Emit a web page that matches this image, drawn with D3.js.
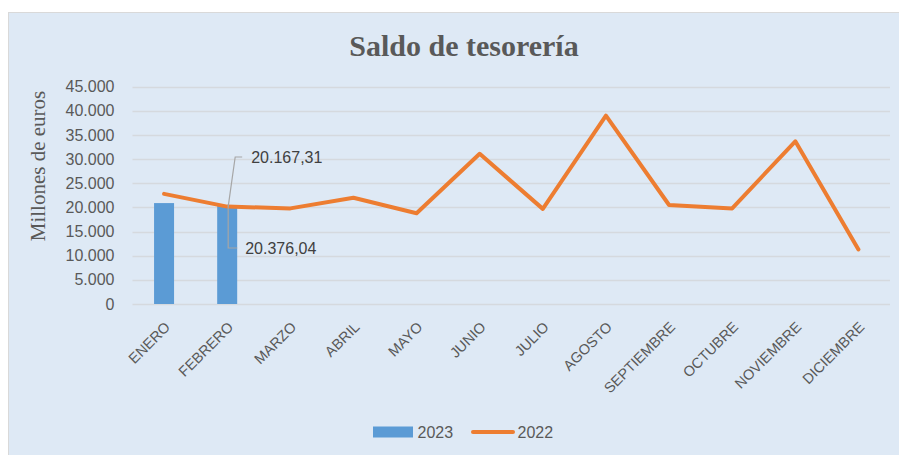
<!DOCTYPE html>
<html lang="es">
<head>
<meta charset="utf-8">
<title>Saldo de tesorería</title>
<script src="https://cdn.jsdelivr.net/npm/d3@7"></script>
<style>
  body { margin: 0; background: #fff; }
  svg { display: block; }
</style>
</head>
<body>
<script>
// data
var months = ["ENERO", "FEBRERO", "MARZO", "ABRIL", "MAYO", "JUNIO", "JULIO",
              "AGOSTO", "SEPTIEMBRE", "OCTUBRE", "NOVIEMBRE", "DICIEMBRE"];
var values2023 = [20900, 20376.04];
var values2022 = [22800, 20167.31, 19800, 22000, 18800, 31100, 19700,
                  39000, 20500, 19800, 33700, 11300];
var yTicks = [0, 5000, 10000, 15000, 20000, 25000, 30000, 35000, 40000, 45000];

var w = 899, h = 455;
var plotLeft = 132.5, plotRight = 890, plotTop = 86.7, plotBottom = 304;

var fmt = d3.formatLocale({ decimal: ",", thousands: ".", grouping: [3], currency: ["", "€"] });
var fmtTick = fmt.format(",.0f");
var fmtLabel = fmt.format(",.2f");

var svg = d3.select("body").append("svg")
  .attr("width", w)
  .attr("height", h);

// chart area
svg.append("rect")
  .attr("x", 8.5).attr("y", 12.5)
  .attr("width", w).attr("height", h)
  .attr("fill", "#dee9f5")
  .attr("stroke", "#d9d9d9");

var x = d3.scaleBand().domain(months).range([plotLeft, plotRight]);
var y = d3.scaleLinear().domain([0, 45000]).range([plotBottom, plotTop]);

// gridlines
svg.append("g")
  .selectAll("line")
  .data(yTicks)
  .enter().append("line")
  .attr("x1", plotLeft).attr("x2", plotRight)
  .attr("y1", function(d) { return Math.round(y(d)) + 0.5; })
  .attr("y2", function(d) { return Math.round(y(d)) + 0.5; })
  .attr("stroke", "#d5d9de")
  .attr("stroke-width", 1.5);

// y axis labels
var yAxis = d3.axisLeft(y).tickValues(yTicks).tickFormat(fmtTick).tickSize(0).tickPadding(18);
var gy = svg.append("g").attr("transform", "translate(" + plotLeft + ",0)").call(yAxis);
gy.select(".domain").remove();
gy.selectAll("text")
  .attr("font-family", "Liberation Sans, Arial, sans-serif")
  .attr("font-size", "16px")
  .attr("fill", "#595959");

// x axis labels
var xAxis = d3.axisBottom(x).tickSize(0).tickPadding(0);
var gx = svg.append("g").attr("transform", "translate(0," + plotBottom + ")").call(xAxis);
gx.select(".domain").remove();
gx.selectAll("text")
  .attr("font-family", "Liberation Sans, Arial, sans-serif")
  .attr("font-size", "14.5px")
  .attr("fill", "#595959")
  .attr("text-anchor", "end")
  .attr("dy", null)
  .attr("transform", "translate(7,24) rotate(-45)");

// bars 2023
var barW = 20;
svg.append("g")
  .selectAll("rect")
  .data(values2023)
  .enter().append("rect")
  .attr("x", function(d, i) { return x(months[i]) + x.bandwidth() / 2 - barW / 2; })
  .attr("y", function(d) { return y(d); })
  .attr("width", barW)
  .attr("height", function(d) { return y(0) - y(d); })
  .attr("fill", "#5b9bd5");

// line 2022
var line = d3.line()
  .x(function(d, i) { return x(months[i]) + x.bandwidth() / 2; })
  .y(function(d) { return y(d); });

svg.append("path")
  .datum(values2022)
  .attr("d", line)
  .attr("fill", "none")
  .attr("stroke", "#ed7d31")
  .attr("stroke-width", 4)
  .attr("stroke-linejoin", "round")
  .attr("stroke-linecap", "round");

// data labels with leader lines (FEBRERO)
var fx = x("FEBRERO") + x.bandwidth() / 2;
var lineY = y(values2022[1]);
var barY = y(values2023[1]);

svg.append("polyline")
  .attr("points", [[fx + 15, 157], [fx + 8, 157], [fx + 1, lineY]].join(" "))
  .attr("fill", "none").attr("stroke", "#a6a6a6").attr("stroke-width", 1.2);
svg.append("polyline")
  .attr("points", [[fx + 1, barY], [fx + 1, 248], [fx + 10, 248]].join(" "))
  .attr("fill", "none").attr("stroke", "#a6a6a6").attr("stroke-width", 1.2);

svg.append("text")
  .attr("x", fx + 24).attr("y", 163)
  .attr("font-family", "Liberation Sans, Arial, sans-serif")
  .attr("font-size", "16px").attr("fill", "#404040")
  .text(fmtLabel(values2022[1]));
svg.append("text")
  .attr("x", fx + 18).attr("y", 254)
  .attr("font-family", "Liberation Sans, Arial, sans-serif")
  .attr("font-size", "16px").attr("fill", "#404040")
  .text(fmtLabel(values2023[1]));

// title
svg.append("text")
  .attr("x", 464).attr("y", 55.5)
  .attr("text-anchor", "middle")
  .attr("font-family", "Liberation Serif, Times New Roman, serif")
  .attr("font-weight", "bold")
  .attr("font-size", "30px")
  .attr("fill", "#595959")
  .text("Saldo de tesorería");

// y axis title
svg.append("text")
  .attr("transform", "translate(44.5,166) rotate(-90)")
  .attr("text-anchor", "middle")
  .attr("font-family", "Liberation Serif, Times New Roman, serif")
  .attr("font-size", "21px")
  .attr("fill", "#595959")
  .text("Millones de euros");

// legend
var lg = svg.append("g");
lg.append("rect")
  .attr("x", 373).attr("y", 426.5).attr("width", 40).attr("height", 11)
  .attr("fill", "#5b9bd5");
lg.append("text")
  .attr("x", 417.5).attr("y", 437.5)
  .attr("font-family", "Liberation Sans, Arial, sans-serif")
  .attr("font-size", "16px").attr("fill", "#595959")
  .text("2023");
lg.append("line")
  .attr("x1", 473).attr("x2", 513).attr("y1", 432).attr("y2", 432)
  .attr("stroke", "#ed7d31").attr("stroke-width", 4).attr("stroke-linecap", "round");
lg.append("text")
  .attr("x", 517.5).attr("y", 437.5)
  .attr("font-family", "Liberation Sans, Arial, sans-serif")
  .attr("font-size", "16px").attr("fill", "#595959")
  .text("2022");
</script>
</body>
</html>
